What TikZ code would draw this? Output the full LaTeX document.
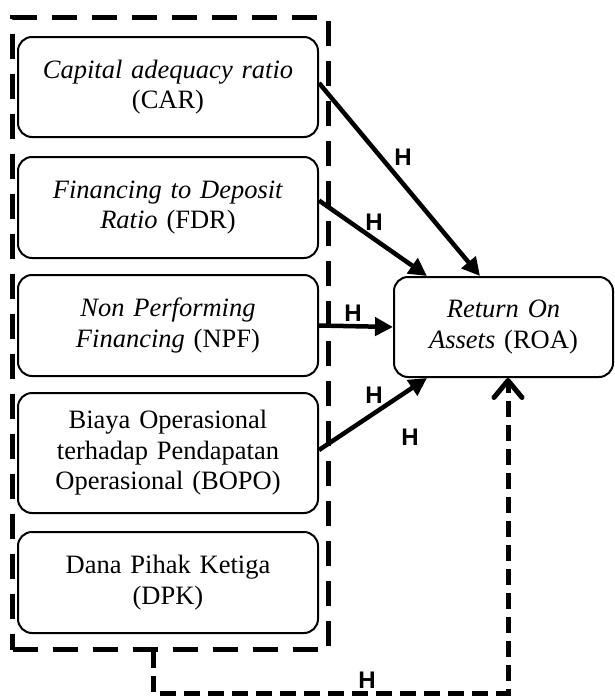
\documentclass[tikz,border=0pt]{standalone}
\usepackage{fontspec}
\setmainfont{Liberation Serif}
\newfontfamily\hfont{Liberation Sans}
\usetikzlibrary{arrows.meta}

\begin{document}
\begin{tikzpicture}[x=1pt,y=-1pt]
  \tikzset{
    var/.style={rectangle,draw=black,line width=2pt,rounded corners=14pt,inner sep=5pt,
                minimum width=300pt,text width=288pt,align=center,
                font=\fontsize{26.5}{30.5}\selectfont},
    grp/.style={rectangle,draw=black,line width=5pt,dash pattern=on 25pt off 15pt,
                minimum width=316pt,minimum height=632pt,anchor=north west},
    arr/.style={-{Triangle[length=18pt,width=18pt]},line width=4.5pt,black},
    feed/.style={-{Straight Barb[length=17pt,width=28pt,round]},line width=5pt,
                 dash pattern=on 16pt off 8pt},
    hl/.style={font=\hfont\bfseries\fontsize{24}{24}\selectfont}}
  \useasboundingbox (0,0) rectangle (615,699);
  \node[grp] (frame) at (10,15) {};
  \node[var,minimum height=100pt] (car) at (168,87){\textit{Capital adequacy ratio}\\(CAR)};
  \node[var,minimum height=101pt] (fdr) at (168,207.5){\textit{Financing to Deposit}\\\textit{Ratio} (FDR)};
  \node[var,minimum height=101pt] (npf) at (168,325.5){\textit{Non Performing}\\\textit{Financing} (NPF)};
  \node[var,minimum height=120pt] (bopo) at (168,453){Biaya Operasional\\terhadap Pendapatan\\Operasional (BOPO)};
  \node[var,minimum height=101pt] (dpk) at (168,582.5){Dana Pihak Ketiga\\(DPK)};
  \node[var,minimum width=219pt,text width=205pt,minimum height=100pt] (roa) at (503.5,327)
    {\textit{Return On}\\\textit{Assets} (ROA)};
  \draw[arr]([yshift=4pt]car.east)--([xshift=-23.5pt]roa.north);
  \draw[arr]([yshift=7pt]fdr.east)--([xshift=34pt]roa.north west);
  \draw[arr](npf.east)--(roa.west);
  \draw[arr]([yshift=3pt]bopo.east)--([xshift=34pt]roa.south west);
  \coordinate (fbl) at (153,693);
  \draw[feed](fbl |- frame.south)--(fbl)-|([xshift=4.5pt]roa.south);
  \node[hl] (hcar) at (403,157){H};
  \node[hl] (hfdr) at (374,222){H};
  \node[hl] (hnpf) at (353,313){H};
  \node[hl] (hbopo) at (374,395){H};
  \node[hl] (hbopo2) at (410,437){H};
  \node[hl] (hdpk) at (367,680){H};
\end{tikzpicture}
\end{document}
